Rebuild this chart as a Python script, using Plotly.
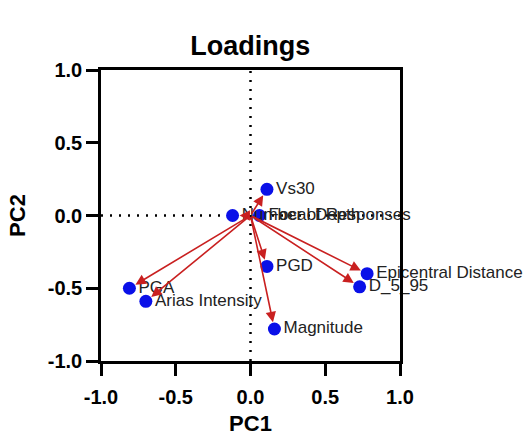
import plotly.graph_objects as go

# PCA loadings (PC1, PC2) for each variable
variables = ["Vs30", "Number of Responses", "Focal Depth", "PGD",
             "Epicentral Distance", "D_5_95", "PGA", "Arias Intensity", "Magnitude"]
pc1 = [0.11, -0.12, 0.06, 0.11, 0.78, 0.73, -0.81, -0.70, 0.16]
pc2 = [0.18, 0.00, 0.00, -0.35, -0.40, -0.49, -0.50, -0.59, -0.78]

axis_ticks = [-1.0, -0.5, 0.0, 0.5, 1.0]
axis_ticktext = ["-1.0", "-0.5", "0.0", "0.5", "1.0"]

FONT = "Arial, Liberation Sans, sans-serif"

fig = go.Figure()

# dotted reference lines through the origin
fig.add_trace(go.Scatter(x=[-1, 1], y=[0, 0], mode="lines",
                         line=dict(color="black", width=2.5, dash="2px,7px"),
                         hoverinfo="skip", showlegend=False))
fig.add_trace(go.Scatter(x=[0, 0], y=[-1, 1], mode="lines",
                         line=dict(color="black", width=2.5, dash="2px,7px"),
                         hoverinfo="skip", showlegend=False))

# loading points with labels
fig.add_trace(go.Scatter(
    x=pc1, y=pc2, mode="markers+text", text=variables,
    textposition="middle right",
    textfont=dict(family=FONT, size=17, color="#222222"),
    marker=dict(color="#0a10e8", size=13),
    cliponaxis=False,
    showlegend=False,
))

# arrows from the origin to each loading
for xv, yv in zip(pc1, pc2):
    fig.add_annotation(
        x=xv, y=yv, ax=0, ay=0, xref="x", yref="y", axref="x", ayref="y",
        text="", showarrow=True, arrowhead=2, arrowsize=1.3, arrowwidth=1.6,
        arrowcolor="#c92020", standoff=7,
    )

axis_common = dict(
    range=[-1, 1], tickvals=axis_ticks, ticktext=axis_ticktext,
    showgrid=False, zeroline=False, showline=True, mirror=True,
    linecolor="black", linewidth=2.5, ticks="outside", ticklen=12,
    tickwidth=2.5, tickcolor="black", automargin=False,
    tickfont=dict(family=FONT, size=20, color="black", weight="bold"),
)

fig.update_layout(
    width=527, height=436,
    margin=dict(l=101, r=127, t=70, b=75),
    plot_bgcolor="white", paper_bgcolor="white",
    title=dict(text="<b>Loadings</b>", x=0.475, xanchor="center", y=0.895,
               yanchor="middle",
               font=dict(family=FONT, size=27, color="black")),
    xaxis=dict(**axis_common, ticklabelstandoff=4,
               title=dict(text="<b>PC1</b>", standoff=9,
                          font=dict(family=FONT, size=22, color="black"))),
    yaxis=dict(**axis_common,
               title=dict(text="<b>PC2</b>", standoff=17,
                          font=dict(family=FONT, size=22, color="black"))),
)

fig.write_html("out.html")
